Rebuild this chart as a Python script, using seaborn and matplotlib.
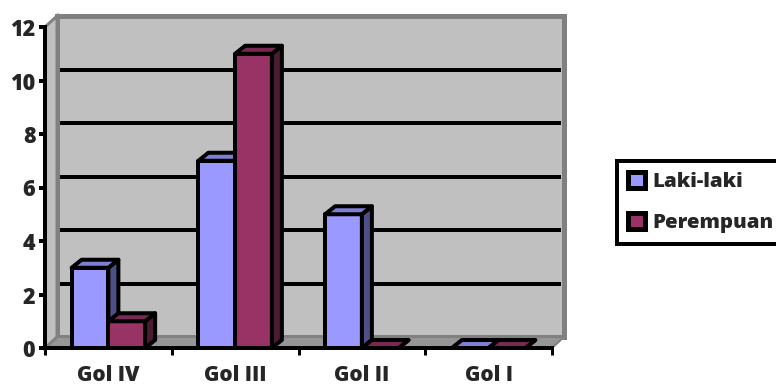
import matplotlib
matplotlib.use("Agg")
import matplotlib.pyplot as plt
import seaborn as sns
import pandas as pd
from matplotlib.patches import Polygon, Patch

# Data
categories = ["Gol IV", "Gol III", "Gol II", "Gol I"]
laki_laki = [3, 7, 5, 0]
perempuan = [1, 11, 0, 0]
series_names = ["Laki-laki", "Perempuan"]
y_ticks = [0, 2, 4, 6, 8, 10, 12]

front_colors = ["#9999FF", "#993366"]
side_colors = ["#4F4F88", "#4D1A33"]
top_colors = ["#7F7FD6", "#7A2952"]

df = pd.DataFrame({
    "Golongan": categories * 2,
    "Jumlah": laki_laki + perempuan,
    "Jenis": [series_names[0]] * len(categories) + [series_names[1]] * len(categories),
})

sns.set_theme(style="white")
plt.rcParams["font.family"] = ["Open Sans", "DejaVu Sans"]
TEXT_WEIGHT = 800
plt.rcParams["font.weight"] = TEXT_WEIGHT

W, H = 776, 387
fig = plt.figure(figsize=(W / 100, H / 100), dpi=100)
fig.patch.set_facecolor("white")

ax_l, ax_b, ax_w, ax_h = 45, 39, 507, 321
ax = fig.add_axes([ax_l / W, ax_b / H, ax_w / W, ax_h / H])
ax.set_facecolor("none")

ymax = 12
xmin, xmax = -0.5, len(categories) - 0.5
ux = (xmax - xmin) / ax_w   # data units per pixel, x
uy = ymax / ax_h            # data units per pixel, y

PX = 72 / 100  # points per pixel

sns.barplot(data=df, x="Golongan", y="Jumlah", hue="Jenis", order=categories,
            hue_order=series_names, palette=front_colors, width=0.58,
            edgecolor="black", linewidth=4 * PX, saturation=1, ax=ax, legend=False)
ax.set_xlim(xmin, xmax)
ax.set_ylim(0, ymax)

# Walls: floor, left side wall and back wall with its gridlines
wdx, wdy = 12 * ux, 11 * uy
floor = Polygon([(xmin, 0), (xmax, 0), (xmax + wdx, wdy), (xmin + wdx, wdy)],
                closed=True, facecolor="#969696", edgecolor="#808080",
                linewidth=2 * PX, clip_on=False, zorder=0.5)
left_wall = Polygon([(xmin, 0), (xmin + wdx, wdy), (xmin + wdx, ymax + wdy), (xmin, ymax)],
                    closed=True, facecolor="#C0C0C0", edgecolor="#808080",
                    linewidth=3 * PX, clip_on=False, zorder=0.6)
back_wall = Polygon([(xmin + wdx, wdy), (xmax + wdx, wdy), (xmax + wdx, ymax + wdy),
                     (xmin + wdx, ymax + wdy)],
                    closed=True, facecolor="#C0C0C0", edgecolor="#808080",
                    linewidth=5 * PX, clip_on=False, zorder=0.4)
for p in (back_wall, floor, left_wall):
    ax.add_patch(p)
for v in y_ticks[1:-1]:
    ax.plot([xmin + wdx + 3 * ux, xmax + wdx - 3 * ux], [v + wdy, v + wdy],
            color="black", linewidth=4 * PX, solid_capstyle="butt",
            clip_on=False, zorder=1)

# Extrude every bar with a top and a side face
bdx, bdy = 10 * ux, 8 * uy
n = len(categories)
for i, bar in enumerate(ax.patches[:2 * n]):
    s = i // n
    z = 3 + s
    bar.set_zorder(z)
    bar.set_joinstyle("round")
    x0 = bar.get_x()
    w = bar.get_width()
    h = bar.get_height()
    x1 = x0 + w
    top = Polygon([(x0, h), (x1, h), (x1 + bdx, h + bdy), (x0 + bdx, h + bdy)],
                  closed=True, facecolor=top_colors[s], edgecolor="black",
                  linewidth=4 * PX, joinstyle="round", clip_on=False, zorder=z)
    side = Polygon([(x1, 0), (x1 + bdx, bdy), (x1 + bdx, h + bdy), (x1, h)],
                   closed=True, facecolor=side_colors[s], edgecolor="black",
                   linewidth=4 * PX, joinstyle="round", clip_on=False, zorder=z)
    ax.add_patch(side)
    ax.add_patch(top)

# Axes styling
for name, sp in ax.spines.items():
    if name in ("left", "bottom"):
        sp.set_color("black")
        sp.set_linewidth(4 * PX)
        sp.set_zorder(6)
    else:
        sp.set_visible(False)

ax.set_yticks(y_ticks)
ax.set_yticklabels([str(v) for v in y_ticks], fontsize=15.5, fontweight=TEXT_WEIGHT)
ax.tick_params(axis="y", direction="out", length=4, width=4 * PX, color="black",
               pad=3, left=True)
ax.set_xticks(range(n))
ax.set_xticklabels(categories, fontsize=15, fontweight=TEXT_WEIGHT)
ax.tick_params(axis="x", which="major", length=0, pad=12.5)
ax.set_xticks([xmin + k for k in range(n + 1)], minor=True)
ax.tick_params(axis="x", which="minor", direction="out", length=5,
               width=3 * PX, color="black", bottom=True)
ax.set_xlabel("")
ax.set_ylabel("")
ax.grid(False)

# Legend
handles = [Patch(facecolor=c, edgecolor="black", linewidth=5 * PX) for c in front_colors]
leg = fig.legend(handles, series_names, loc="upper left",
                 bbox_to_anchor=(617 / W, 1 - 161 / H), borderaxespad=0,
                 prop={"size": 14.7, "weight": TEXT_WEIGHT}, frameon=True, fancybox=False,
                 handlelength=0.8, handleheight=0.8, handletextpad=0.38,
                 borderpad=0.55, labelspacing=1.02)
frame = leg.get_frame()
frame.set_edgecolor("black")
frame.set_linewidth(4 * PX)
frame.set_facecolor("white")
frame.set_alpha(1)

fig.savefig("out.png", dpi=100, facecolor="white")
